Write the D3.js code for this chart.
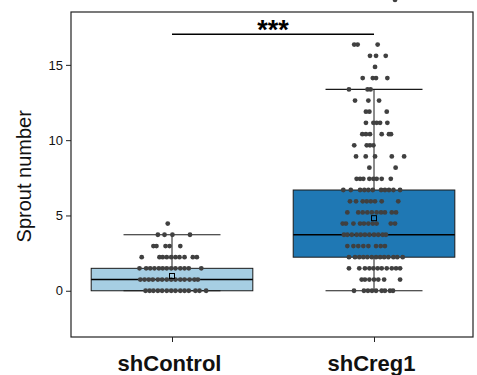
<!DOCTYPE html>
<html>
<head>
<meta charset="utf-8">
<script src="https://cdn.jsdelivr.net/npm/d3@7"></script>
<style>
    body { margin: 0; background: #fff; }
    svg { display: block; font-family: 'Liberation Sans', Arial, sans-serif; }
</style>
</head>
<body>
<div id="chart"></div>
<script>
// categories and box statistics
const categories = [ 'shControl', 'shCreg1' ];
const boxColors = [ '#a6cee3', '#1f78b4' ];
const q1 = [ 0, 2.23 ];
const medians = [ 0.74, 3.72 ];
const q3 = [ 1.49, 6.69 ];
const whiskerLow = [ 0, 0 ];
const whiskerHigh = [ 3.72, 13.37 ];
const means = [ 0.98, 4.82 ];
const yTicks = [ 0, 5, 10, 15 ];
const significance = { from: 0, to: 1, y: 17.03, label: '***' };

// strip points: [value, [horizontal jitter of each point, in category units]]
const controlPoints = [
    [ 4.46, [ -0.021 ] ],
    [ 3.72, [ -0.070, -0.037, 0.002, 0.089 ] ],
    [ 2.97, [ -0.092, -0.077, -0.032, -0.012, 0.041 ] ],
    [ 2.23, [ -0.150, -0.062, -0.046, -0.026, -0.004, 0.017, 0.037, 0.062, 0.103, 0.123 ] ],
    [ 1.49, [ -0.161, -0.128, -0.108, -0.087, -0.065, -0.046, -0.026, -0.004, 0.017, 0.041, 0.062, 0.083, 0.145 ] ],
    [ 0.74, [ -0.157, -0.136, -0.115, -0.095, -0.070, -0.049, -0.026, -0.004, 0.017, 0.041, 0.062, 0.087, 0.111, 0.128 ] ],
    [ 0, [ -0.131, -0.111, -0.092, -0.070, -0.049, -0.026, -0.004, 0.017, 0.041, 0.062, 0.083, 0.116, 0.136, 0.169 ] ]
];
const creg1Points = [
    [ 19.32, [ 0.104 ] ],
    [ 16.35, [ -0.098, -0.081, 0.018 ] ],
    [ 15.60, [ -0.020, 0.010, 0.058 ] ],
    [ 14.86, [ 0.005 ] ],
    [ 14.12, [ -0.056, -0.006, 0.010, 0.066 ] ],
    [ 13.37, [ -0.124, -0.032, -0.017 ] ],
    [ 12.63, [ -0.094, -0.028, 0.025 ] ],
    [ 11.89, [ -0.040, -0.023, 0.063 ] ],
    [ 11.15, [ -0.040, -0.003, 0.013, 0.030, 0.066 ] ],
    [ 10.40, [ -0.058, -0.040, -0.020, 0.038, 0.074, 0.084 ] ],
    [ 9.66, [ -0.098, -0.036, -0.020, -0.003 ] ],
    [ 8.92, [ -0.089, -0.041, 0.005, 0.088, 0.149 ] ],
    [ 8.17, [ -0.023, 0.107 ] ],
    [ 7.43, [ -0.086, -0.069, -0.053, -0.023, -0.003, 0.013, 0.038, 0.083 ] ],
    [ 6.69, [ -0.152, -0.115, -0.069, -0.048, -0.028, -0.006, 0.035, 0.054, 0.074, 0.096, 0.129 ] ],
    [ 5.94, [ -0.119, -0.089, -0.056, -0.036, -0.016, 0.005, 0.038, 0.120 ] ],
    [ 5.20, [ -0.132, -0.078, -0.056, -0.033, -0.011, 0.013, 0.035, 0.054, 0.088, 0.109 ] ],
    [ 4.46, [ -0.155, -0.139, -0.102, -0.069, -0.050, -0.028, -0.006, 0.013, 0.083, 0.104 ] ],
    [ 3.72, [ -0.149, -0.132, -0.110, -0.086, -0.066, -0.045, -0.023, 0.000, 0.021, 0.043, 0.059 ] ],
    [ 2.97, [ -0.132, -0.102, -0.078, -0.053, -0.028, 0.010, 0.033, 0.054 ] ],
    [ 2.23, [ -0.124, -0.094, -0.073, -0.053, -0.033, -0.011, 0.010, 0.030, 0.050, 0.071, 0.096, 0.115, 0.142 ] ],
    [ 1.49, [ -0.124, -0.073, -0.045, -0.023, -0.003, 0.018, 0.038, 0.063, 0.088, 0.109, 0.129 ] ],
    [ 0.74, [ -0.061, -0.045, -0.023, 0.000, 0.021, 0.050, 0.129 ] ],
    [ 0, [ -0.099, -0.050, -0.030, -0.010, 0.010, 0.038, 0.054, 0.079, 0.094 ] ]
];
const groupPoints = [ controlPoints, creg1Points ];

const width = 477;
const height = 375;
const margin = { top: 12, right: 4, bottom: 38, left: 71 };
const boxWidth = 0.8;
const capWidth = 0.48;

const svg = d3.select('#chart').append('svg')
    .attr('width', width)
    .attr('height', height);

const xScale = d3.scaleLinear()
    .domain([ -0.5, 1.49 ])
    .range([ margin.left, width - margin.right ]);
const yScale = d3.scaleLinear()
    .domain([ -3.07, 18.51 ])
    .range([ height - margin.bottom, margin.top ]);

// boxes
categories.forEach((c, i) => {
    svg.append('rect')
        .attr('x', xScale(i - boxWidth / 2))
        .attr('y', yScale(q3[i]))
        .attr('width', xScale(i + boxWidth / 2) - xScale(i - boxWidth / 2))
        .attr('height', yScale(q1[i]) - yScale(q3[i]))
        .attr('fill', boxColors[i])
        .attr('stroke', '#1a1a1a')
        .attr('stroke-width', 1);

    // whiskers and caps
    [ [ q3[i], whiskerHigh[i] ], [ q1[i], whiskerLow[i] ] ].forEach(([ a, b ]) => {
        if (a !== b) {
            svg.append('line')
                .attr('x1', xScale(i)).attr('x2', xScale(i))
                .attr('y1', yScale(a)).attr('y2', yScale(b))
                .attr('stroke', '#1a1a1a')
                .attr('stroke-width', 1);
        }
        svg.append('line')
            .attr('x1', xScale(i - capWidth / 2)).attr('x2', xScale(i + capWidth / 2))
            .attr('y1', yScale(b)).attr('y2', yScale(b))
            .attr('stroke', '#1a1a1a')
            .attr('stroke-width', 1.2);
    });

    // median
    svg.append('line')
        .attr('x1', xScale(i - boxWidth / 2)).attr('x2', xScale(i + boxWidth / 2))
        .attr('y1', yScale(medians[i])).attr('y2', yScale(medians[i]))
        .attr('stroke', '#000')
        .attr('stroke-width', 1.5);
});

// strip points
groupPoints.forEach((rows, i) => {
    const pts = [];
    rows.forEach(([ v, jit ]) => jit.forEach(j => pts.push({ x: i + j, y: v })));
    svg.append('g')
        .selectAll('circle')
        .data(pts)
        .join('circle')
        .attr('cx', d => xScale(d.x))
        .attr('cy', d => yScale(d.y))
        .attr('r', 2.4)
        .attr('fill', '#404040');
});

// mean markers
svg.append('g')
    .selectAll('rect')
    .data(means)
    .join('rect')
    .attr('x', (d, i) => xScale(i) - 2.5)
    .attr('y', d => yScale(d) - 2.5)
    .attr('width', 5)
    .attr('height', 5)
    .attr('fill', 'none')
    .attr('stroke', '#000')
    .attr('stroke-width', 1);

// frame
svg.append('rect')
    .attr('x', margin.left)
    .attr('y', margin.top)
    .attr('width', width - margin.left - margin.right)
    .attr('height', height - margin.top - margin.bottom)
    .attr('fill', 'none')
    .attr('stroke', '#222')
    .attr('stroke-width', 1.2);

// y axis
const yAxis = svg.append('g')
    .attr('transform', `translate(${margin.left},0)`)
    .call(d3.axisLeft(yScale).tickValues(yTicks).tickSize(5).tickPadding(3).tickSizeOuter(0));
yAxis.select('.domain').remove();
yAxis.selectAll('text').attr('font-size', 13).attr('fill', '#111');
yAxis.selectAll('line').attr('stroke', '#222');

svg.append('text')
    .attr('transform', `translate(31,${yScale(7.6)}) rotate(-90)`)
    .attr('text-anchor', 'middle')
    .attr('font-size', 20)
    .attr('fill', '#111')
    .text('Sprout number');

// x axis
const xAxis = svg.append('g')
    .attr('transform', `translate(0,${height - margin.bottom})`)
    .call(d3.axisBottom(xScale).tickValues([ 0, 1 ]).tickFormat(i => categories[i])
        .tickSize(5).tickPadding(13).tickSizeOuter(0));
xAxis.select('.domain').remove();
xAxis.selectAll('text')
    .attr('font-size', 22)
    .attr('font-weight', 'bold')
    .attr('dx', -3)
    .attr('fill', '#111');
xAxis.selectAll('line').attr('stroke', '#222');

// significance bracket
svg.append('line')
    .attr('x1', xScale(significance.from)).attr('x2', xScale(significance.to))
    .attr('y1', yScale(significance.y)).attr('y2', yScale(significance.y))
    .attr('stroke', '#000')
    .attr('stroke-width', 1.5);
svg.append('text')
    .attr('x', xScale((significance.from + significance.to) / 2))
    .attr('y', yScale(significance.y) + 5)
    .attr('text-anchor', 'middle')
    .attr('font-size', 27)
    .attr('font-weight', 'bold')
    .text(significance.label);
</script>
</body>
</html>
